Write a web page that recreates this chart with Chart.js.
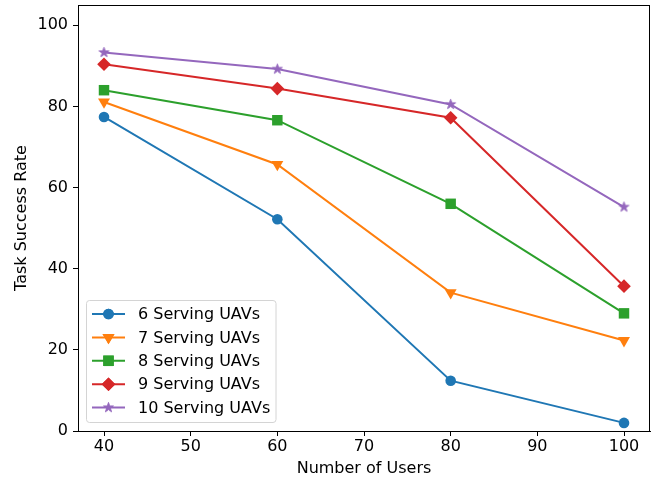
<!DOCTYPE html>
<html>
<head>
<meta charset="utf-8">
<script src="https://cdn.jsdelivr.net/npm/chart.js@4/dist/chart.umd.min.js"></script>
<style>
  html, body { margin: 0; padding: 0; background: #fff; }
  #wrap { width: 657px; height: 481px; }
</style>
</head>
<body>
<div id="wrap"><canvas id="c" width="657" height="481"></canvas></div>
<script>
// Task success rate versus number of users, per fleet size
const users = [40, 60, 80, 100];
const uav6 = [77.4, 52.2, 12.4, 2.0];
const uav7 = [81.1, 65.7, 34.1, 22.3];
const uav8 = [84.0, 76.6, 56.0, 29.0];
const uav9 = [90.4, 84.4, 77.2, 35.7];
const uav10 = [93.3, 89.2, 80.5, 55.2];
const seriesLabels = ['6 Serving UAVs', '7 Serving UAVs', '8 Serving UAVs', '9 Serving UAVs', '10 Serving UAVs'];
const xTicks = [40, 50, 60, 70, 80, 90, 100];
const yTicks = [0, 20, 40, 60, 80, 100];

const FONT = 'DejaVu Sans';
const FS = 16;
const colors = ['#1f77b4', '#ff7f0e', '#2ca02c', '#d62728', '#9467bd'];

// five-pointed star marker drawn on a small canvas
function makeStar(color, outer) {
  const size = Math.ceil(outer * 2 + 4);
  const cv = document.createElement('canvas');
  cv.width = size; cv.height = size;
  const g = cv.getContext('2d');
  const cx = size / 2, cy = size / 2, inner = outer * 0.382;
  g.beginPath();
  for (let i = 0; i < 10; i++) {
    const r = i % 2 === 0 ? outer : inner;
    const a = -Math.PI / 2 + i * Math.PI / 5;
    const px = cx + r * Math.cos(a), py = cy + r * Math.sin(a);
    if (i === 0) g.moveTo(px, py); else g.lineTo(px, py);
  }
  g.closePath();
  g.fillStyle = color; g.fill();
  g.lineWidth = 1; g.strokeStyle = color; g.stroke();
  return cv;
}
const star = makeStar(colors[4], 5.2);

const markers = [
  { pointStyle: 'circle', radius: 5.3, rotation: 0 },
  { pointStyle: 'triangle', radius: 6.9, rotation: 180 },
  { pointStyle: 'rect', radius: 7.4, rotation: 0 },
  { pointStyle: 'rectRot', radius: 6.8, rotation: 0 },
  { pointStyle: star, radius: 5.2, rotation: 0 }
];

const values = [uav6, uav7, uav8, uav9, uav10];
const datasets = values.map((vals, i) => ({
  label: seriesLabels[i],
  data: users.map((u, j) => ({ x: u, y: vals[j] })),
  borderColor: colors[i],
  backgroundColor: colors[i],
  borderWidth: 2,
  pointStyle: markers[i].pointStyle,
  pointRadius: markers[i].radius,
  pointHoverRadius: markers[i].radius,
  pointRotation: markers[i].rotation,
  pointBorderWidth: 0,
  tension: 0
}));

// frame on all four sides of the plot area
const framePlugin = {
  id: 'frame',
  afterDatasetsDraw(chart) {
    const { ctx, chartArea: a } = chart;
    ctx.save();
    ctx.strokeStyle = '#000';
    ctx.lineWidth = 1;
    ctx.strokeRect(Math.round(a.left) + 0.5, Math.round(a.top) + 0.5,
                   Math.round(a.right - a.left) - 1, Math.round(a.bottom - a.top));
    ctx.restore();
  }
};

// boxed legend in the lower-left corner of the plot
function roundRect(ctx, x, y, w, h, r) {
  ctx.beginPath();
  ctx.moveTo(x + r, y);
  ctx.lineTo(x + w - r, y);
  ctx.arcTo(x + w, y, x + w, y + r, r);
  ctx.lineTo(x + w, y + h - r);
  ctx.arcTo(x + w, y + h, x + w - r, y + h, r);
  ctx.lineTo(x + r, y + h);
  ctx.arcTo(x, y + h, x, y + h - r, r);
  ctx.lineTo(x, y + r);
  ctx.arcTo(x, y, x + r, y, r);
  ctx.closePath();
}
const legendPlugin = {
  id: 'boxLegend',
  afterDraw(chart) {
    const { ctx } = chart;
    const bx = 86.5, by = 300.5, bw = 189.5, bh = 122;
    ctx.save();
    roundRect(ctx, bx, by, bw, bh, 3);
    ctx.fillStyle = 'rgba(255,255,255,0.8)';
    ctx.fill();
    ctx.strokeStyle = '#d4d4d4';
    ctx.lineWidth = 1;
    ctx.stroke();
    ctx.font = FS + 'px "' + FONT + '"';
    ctx.textBaseline = 'middle';
    ctx.textAlign = 'left';
    chart.data.datasets.forEach((ds, i) => {
      const y = 314 + i * 23.4;
      ctx.strokeStyle = ds.borderColor;
      ctx.lineWidth = 2;
      ctx.beginPath();
      ctx.moveTo(92, y);
      ctx.lineTo(125, y);
      ctx.stroke();
      ctx.fillStyle = ds.backgroundColor;
      Chart.helpers.drawPoint(ctx, {
        pointStyle: ds.pointStyle,
        rotation: ds.pointRotation,
        radius: ds.pointRadius,
        borderWidth: 0
      }, 108.5, y);
      ctx.fill();
      ctx.fillStyle = '#000';
      ctx.fillText(ds.label, 138, y + 1);
    });
    ctx.restore();
  }
};

new Chart(document.getElementById('c'), {
  type: 'line',
  data: { datasets },
  options: {
    responsive: false,
    animation: false,
    devicePixelRatio: 1,
    layout: { autoPadding: false, padding: { left: 0, right: 7, top: 5, bottom: 0 } },
    plugins: { legend: { display: false }, tooltip: { enabled: false } },
    scales: {
      x: {
        type: 'linear',
        min: 37, max: 103,
        afterBuildTicks: s => { s.ticks = xTicks.map(v => ({ value: v })); },
        afterFit: s => { s.height = 50; s.paddingLeft = 0; s.paddingRight = 0; },
        grid: { display: true, drawOnChartArea: false, drawTicks: true, tickLength: 5, color: '#000', lineWidth: 1 },
        border: { display: true, color: '#000', width: 1 },
        ticks: { color: '#000', padding: 1.5, maxRotation: 0, font: { family: FONT, size: FS } },
        title: { display: true, text: 'Number of Users', color: '#000', padding: { top: 0, bottom: 2.5 }, font: { family: FONT, size: FS } }
      },
      y: {
        type: 'linear',
        min: 0, max: 105,
        afterBuildTicks: s => { s.ticks = yTicks.map(v => ({ value: v })); },
        afterFit: s => { s.width = 78; s.paddingTop = 0; s.paddingBottom = 0; },
        grid: { display: true, drawOnChartArea: false, drawTicks: true, tickLength: 5, color: '#000', lineWidth: 1 },
        border: { display: true, color: '#000', width: 1 },
        ticks: { color: '#000', padding: 5, font: { family: FONT, size: FS } },
        title: { display: true, text: 'Task Success Rate', color: '#000', padding: { top: 12.5, bottom: 0 }, font: { family: FONT, size: FS } }
      }
    }
  },
  plugins: [framePlugin, legendPlugin]
});
</script>
</body>
</html>
